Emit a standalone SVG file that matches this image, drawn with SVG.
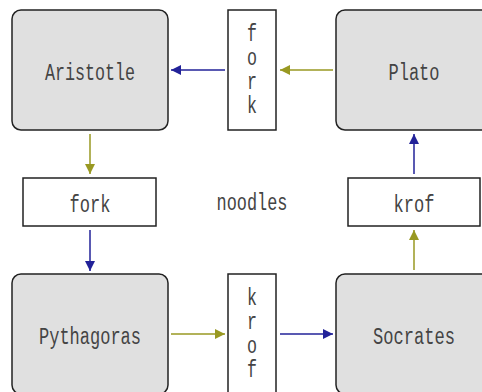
<svg xmlns="http://www.w3.org/2000/svg" width="482" height="392" viewBox="0 0 482 392">
<defs>
<marker id="ao" viewBox="0 0 10 10" refX="10" refY="5" markerWidth="10" markerHeight="10" markerUnits="userSpaceOnUse" orient="auto"><path d="M0,0 L10,5 L0,10 z" fill="#999922"/></marker>
<marker id="ab" viewBox="0 0 10 10" refX="10" refY="5" markerWidth="10" markerHeight="10" markerUnits="userSpaceOnUse" orient="auto"><path d="M0,0 L10,5 L0,10 z" fill="#222299"/></marker>
</defs>
<style>
.n{fill:#e0e0e0;stroke:#222;stroke-width:1.5}
.b{fill:#fff;stroke:#222;stroke-width:1.5}
text{font-family:"Liberation Mono","DejaVu Sans Mono",monospace;font-size:23px;fill:#444;text-anchor:middle}
.o{stroke:#999922;stroke-width:1.5;fill:none;marker-end:url(#ao)}
.u{stroke:#222299;stroke-width:1.5;fill:none;marker-end:url(#ab)}
</style>
<rect width="482" height="392" fill="#fff"/>
<g id="aristotle"><rect class="n" x="12" y="10" width="156" height="120" rx="9"/><text x="90" y="80" textLength="90" lengthAdjust="spacingAndGlyphs">Aristotle</text></g>
<g id="plato"><rect class="n" x="336" y="10" width="156" height="120" rx="9"/><text x="414" y="80" textLength="51" lengthAdjust="spacingAndGlyphs">Plato</text></g>
<g id="pythagoras"><rect class="n" x="12" y="274" width="156" height="120" rx="9"/><text x="90" y="344" textLength="102" lengthAdjust="spacingAndGlyphs">Pythagoras</text></g>
<g id="socrates"><rect class="n" x="336" y="274" width="156" height="120" rx="9"/><text x="414" y="344" textLength="82" lengthAdjust="spacingAndGlyphs">Socrates</text></g>
<g id="fork-v"><rect class="b" x="228" y="10" width="48" height="120"/><text x="252" y="41" textLength="10" lengthAdjust="spacingAndGlyphs">f</text><text x="252" y="65" textLength="10" lengthAdjust="spacingAndGlyphs">o</text><text x="252" y="89" textLength="10" lengthAdjust="spacingAndGlyphs">r</text><text x="252" y="113" textLength="10" lengthAdjust="spacingAndGlyphs">k</text></g>
<g id="fork-h"><rect class="b" x="23" y="178" width="133" height="48"/><text x="90" y="212" textLength="41" lengthAdjust="spacingAndGlyphs">fork</text></g>
<g id="krof-h"><rect class="b" x="348" y="178" width="132" height="48"/><text x="414" y="212" textLength="41" lengthAdjust="spacingAndGlyphs">krof</text></g>
<g id="krof-v"><rect class="b" x="228" y="274" width="48" height="120"/><text x="252" y="305" textLength="10" lengthAdjust="spacingAndGlyphs">k</text><text x="252" y="329" textLength="10" lengthAdjust="spacingAndGlyphs">r</text><text x="252" y="353" textLength="10" lengthAdjust="spacingAndGlyphs">o</text><text x="252" y="377" textLength="10" lengthAdjust="spacingAndGlyphs">f</text></g>
<g id="noodles"><text x="252" y="210" textLength="71" lengthAdjust="spacingAndGlyphs">noodles</text></g>
<g id="connectors">
<line class="o" x1="333" y1="70" x2="280" y2="70"/>
<line class="u" x1="225" y1="70" x2="171" y2="70"/>
<line class="o" x1="90" y1="134" x2="90" y2="174"/>
<line class="u" x1="90" y1="230" x2="90" y2="271"/>
<line class="o" x1="171" y1="334" x2="225" y2="334"/>
<line class="u" x1="280" y1="334" x2="333" y2="334"/>
<line class="o" x1="414" y1="270" x2="414" y2="230"/>
<line class="u" x1="414" y1="174" x2="414" y2="134"/>
</g>
</svg>
